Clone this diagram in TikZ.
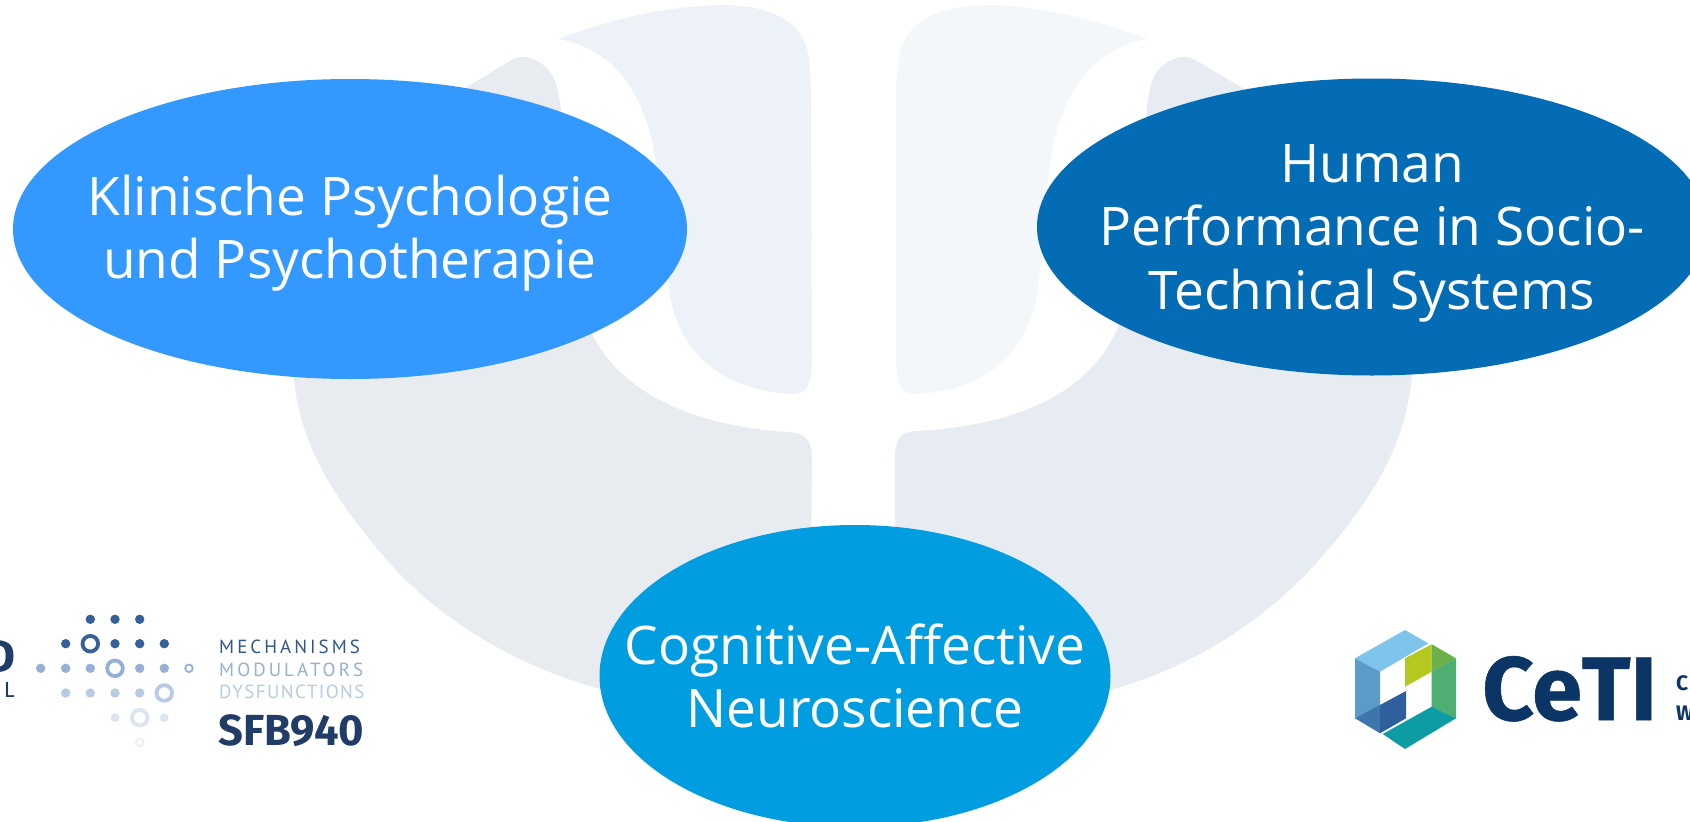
\documentclass[tikz,border=0pt]{standalone}
\usepackage{fontspec}
\usetikzlibrary{shapes.geometric}
\setmainfont{Open Sans}
\newfontfamily\dinA[LetterSpace=16]{PT Sans}
\newfontfamily\dinB[LetterSpace=7.5]{PT Sans}
\newfontfamily\dinb{Fira Sans}
\newfontfamily\dinh[FakeBold=0.6]{Fira Sans Bold}
\definecolor{psiLL}{HTML}{E8EBEF}
\definecolor{psiRL}{HTML}{E7EBF2}
\definecolor{psiLU}{HTML}{EDF2F8}
\definecolor{psiRU}{HTML}{F4F7FA}
\definecolor{elLeft}{HTML}{3399FF}
\definecolor{elRight}{HTML}{046CB5}
\definecolor{elBottom}{HTML}{009EE0}
\definecolor{sfbA}{HTML}{36609A}
\definecolor{sfbB}{HTML}{95B0D4}
\definecolor{sfbC}{HTML}{B7CBE3}
\definecolor{sfbD}{HTML}{DBE4F0}
\definecolor{sfbE}{HTML}{E8EEF5}
\definecolor{sfbNavy}{HTML}{213C66}
\definecolor{cetiNavy}{HTML}{0B3564}
\tikzset{
  area/.style={ellipse,inner sep=0pt,outer sep=0pt},
  areatext/.style={text=white,align=center,inner sep=0pt,font=\fontsize{53.2}{63.6}\selectfont},
  sfbline/.style={anchor=base west,inner sep=0pt},
  bigring/.style={line width=3.8pt},
  smallring/.style={line width=1.8pt}
}
\begin{document}
\begin{tikzpicture}[x=1pt,y=-1pt]
\useasboundingbox (0,0) rectangle (1690,822);
\fill[white] (0,0) rectangle (1690,822);
% psi: lower left
\fill[psiLL] (523,57) .. controls (538,57) and (552,70) .. (556,84)
  .. controls (562,105) and (562,125) .. (564,150)
  -- (590,330)
  .. controls (615,385) and (680,425) .. (787,432)
  .. controls (805,433) and (812,440) .. (812,458)
  -- (811,560) -- (700,720) -- (604,690)
  .. controls (510,665) and (435,615) .. (387,560)
  .. controls (335,500) and (300,445) .. (294,379)
  -- (467,87) -- (510,61) .. controls (515,58) and (519,57) .. (523,57) -- cycle;
% psi: lower right
\fill[psiRL] (1184,57) .. controls (1169,57) and (1155,70) .. (1151,84)
  .. controls (1146,105) and (1146,125) .. (1143,150)
  -- (1119,325)
  .. controls (1095,385) and (1030,425) .. (916,431)
  .. controls (900,432) and (895,440) .. (895,458)
  -- (895,560) -- (1000,720) -- (1110,690)
  .. controls (1200,665) and (1270,615) .. (1319,560)
  .. controls (1372,500) and (1406,445) .. (1412,375)
  -- (1244,89) -- (1197,61) .. controls (1192,58) and (1188,57) .. (1184,57) -- cycle;
% psi: upper left
\fill[psiLU] (558,39) .. controls (610,20) and (660,7) .. (719,5)
  .. controls (770,5) and (805,20) .. (809,60)
  .. controls (811,75) and (811,90) .. (811,110)
  -- (812,360) .. controls (812,385) and (806,394) .. (792,394)
  .. controls (720,390) and (680,350) .. (671,300)
  .. controls (665,270) and (662,200) .. (655,157)
  .. controls (645,90) and (610,47) .. (558,39) -- cycle;
% psi: upper right
\fill[psiRU] (1148,39) .. controls (1096,20) and (1046,7) .. (994,5)
  .. controls (940,5) and (903,20) .. (899,60)
  .. controls (896,75) and (896,90) .. (896,110)
  -- (896,360) .. controls (896,385) and (902,394) .. (916,394)
  .. controls (990,390) and (1025,350) .. (1036,300)
  .. controls (1042,270) and (1044,200) .. (1051,157)
  .. controls (1061,90) and (1096,47) .. (1148,39) -- cycle;
% area ellipses
\node[area,fill=elLeft,minimum width=674pt,minimum height=300pt] (left) at (350,229) {};
\node[area,fill=elRight,minimum width=670pt,minimum height=297pt] (right) at (1372,227) {};
\node[area,fill=elBottom,minimum width=511pt,minimum height=302pt] (bottom) at (855,676) {};
\node[areatext,yshift=-4pt] (leftlabel) at (left.center) {Klinische Psychologie\\und Psychotherapie};
\node[areatext,yshift=-6pt] (rightlabel) at (right.center) {Human\\Performance in Socio-\\Technical Systems};
\node[areatext] (bottomlabel) at (bottom.center) {Cognitive-Affective\\Neuroscience};
% SFB logo dots
\foreach \x/\y in {90.3/619.3,115/619.3,139.7/619.3,65.7/643.7,115/643.7,139.7/643.7,164.3/643.7}
  \fill[sfbA] (\x,\y) circle (4.7);
\foreach \x/\y in {40.7/668.3,65.7/668.3,90.3/668.3,139.7/668.3,164.3/668.3}
  \fill[sfbB] (\x,\y) circle (4.7);
\foreach \x/\y in {65.7/693,90.3/693,115/693,139.7/693}
  \fill[sfbC] (\x,\y) circle (4.7);
\foreach \x/\y in {115/717.7,164.3/717.7}
  \fill[sfbD] (\x,\y) circle (4.3);
\draw[sfbA,bigring] (90.3,643.7) circle (7.8);
\draw[sfbB,bigring] (115,668.3) circle (7.8);
\draw[sfbC,bigring] (164.3,693) circle (7.8);
\draw[sfbD,bigring] (139.7,717.7) circle (7.8);
\draw[sfbB,smallring] (189,668.3) circle (3.8);
\draw[sfbE,smallring] (139.7,742.3) circle (3.8);
\node[sfbline,text=sfbA!90!black,font=\dinA\fontsize{19}{19}\selectfont] (mech) at (219,653) {MECHANISMS};
\node[sfbline,text=sfbB,font=\dinA\fontsize{19}{19}\selectfont] (mod) at (219,676) {MODULATORS};
\node[sfbline,text=sfbC,font=\dinB\fontsize{19}{19}\selectfont] (dys) at (219,698) {DYSFUNCTIONS};
\node[sfbline,text=sfbNavy,font=\dinb\bfseries\fontsize{43.5}{43.5}\selectfont] (sfb) at (218,745) {SFB940};
\node[anchor=base east,inner sep=0pt,text=sfbNavy,font=\dinb\bfseries\fontsize{46}{46}\selectfont] (cutd) at (16,672) {D};
\node[anchor=base east,inner sep=0pt,text=sfbNavy,font=\dinb\fontsize{22}{22}\selectfont] (cutl) at (15,697) {L};
% CeTI logo
\fill[fill={rgb,255:red,127;green,196;blue,234}] (1355,658.3) -- (1405,630) -- (1428.3,643.3) -- (1380,671.7) -- cycle;
\fill[fill={rgb,255:red,91;green,155;blue,201}] (1355,658.3) -- (1380,671.7) -- (1380,706.7) -- (1355,718.3) -- cycle;
\fill[fill={rgb,255:red,62;green,117;blue,171}] (1355,718.3) -- (1380,705) -- (1380,733.3) -- cycle;
\fill[fill={rgb,255:red,47;green,95;blue,156}] (1380,705) -- (1406,691) -- (1406,718.3) -- (1380,733.3) -- cycle;
\fill[fill={rgb,255:red,181;green,200;blue,31}] (1405,658.3) -- (1431.7,644.3) -- (1431.7,671.7) -- (1405,686.7) -- cycle;
\fill[fill={rgb,255:red,108;green,176;blue,74}] (1431.7,644.3) -- (1456,658.3) -- (1431.7,671.7) -- cycle;
\fill[fill={rgb,255:red,79;green,174;blue,114}] (1431.7,671.7) -- (1456,658.3) -- (1456,718.3) -- (1431.7,706.7) -- cycle;
\fill[fill={rgb,255:red,13;green,156;blue,164}] (1382.7,734) -- (1431.7,706.7) -- (1456,718.3) -- (1405,749) -- cycle;
\node[anchor=base west,inner sep=0pt,text=cetiNavy,font=\dinh\fontsize{90}{90}\selectfont] (ceti) at (1482,720) {CeTI};
\node[anchor=base west,inner sep=0pt,text=cetiNavy,font=\dinb\bfseries\fontsize{21}{21}\selectfont] (cetic) at (1676,690) {C};
\node[anchor=base west,inner sep=0pt,text=cetiNavy,font=\dinb\bfseries\fontsize{21}{21}\selectfont] (cetiw) at (1676,720) {W};
\end{tikzpicture}
\end{document}
